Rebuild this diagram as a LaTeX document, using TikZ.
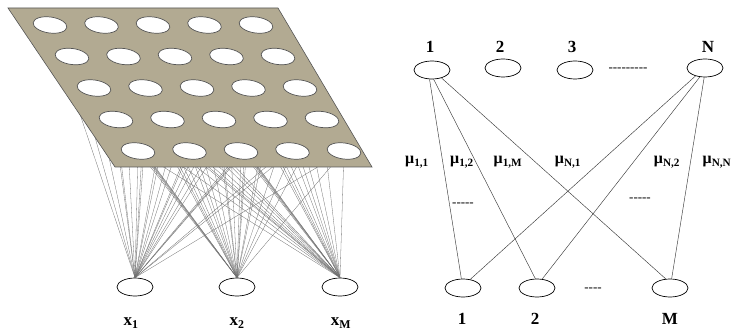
\documentclass[tikz,border=0pt]{standalone}
\usepackage{fontspec}
\setmainfont{Liberation Serif}
\usetikzlibrary{shapes.geometric}
\definecolor{plane}{HTML}{B2AA92}
\definecolor{rim}{HTML}{555555}
\definecolor{wire}{HTML}{3A3A3A}
\definecolor{fine}{HTML}{707070}
\tikzset{
  unit/.style={ellipse, draw=black, fill=white, line width=0.7pt,
    minimum width=36pt, minimum height=18pt, inner sep=0pt},
  cell/.style={ellipse, draw=rim, fill=white, line width=0.7pt,
    minimum width=34pt, minimum height=16pt, inner sep=0pt, rotate=-8},
  link/.style={draw=wire, line width=0.45pt},
  mesh/.style={draw=fine, line width=0.3pt},
  lab/.style={font=\fontsize{17}{17}\selectfont\bfseries, inner sep=0pt},
  wlab/.style={font=\fontsize{16}{16}\selectfont\bfseries, inner sep=0pt},
  gap/.style={font=\fontsize{13}{13}\selectfont, inner sep=0pt}
}
\begin{document}
\begin{tikzpicture}[x=1pt, y=-1pt]
  \useasboundingbox (0,0) rectangle (734,334);

  % input layer
  \node[unit] (x1) at (135,287) {};
  \node[unit] (x2) at (237,287) {};
  \node[unit] (xM) at (340,287) {};
  \node[lab] (lx1) at (131,323) {x\textsubscript{1}};
  \node[lab] (lx2) at (237,323) {x\textsubscript{2}};
  \node[lab] (lxM) at (341,323) {x\textsubscript{M}};

  % map: wires first, plane on top
  \foreach \r in {0,...,4}
    \foreach \c in {0,...,4}
      \coordinate (m\r\c) at ({50+51.5*\c+22*\r},{25+31.5*\r});
  \foreach \r in {0,...,4}
    \foreach \c in {0,...,4}
      \foreach \i in {x1,x2,xM}
        \draw[mesh] (m\r\c) -- (\i.north);
  \filldraw[fill=plane, draw=rim, line width=0.6pt]
    (8,8) -- (278,8) -- (372,167) -- (115,167) -- cycle;
  \foreach \r in {0,...,4}
    \foreach \c in {0,...,4}
      \node[cell] (n\r\c) at (m\r\c) {};

  % output layer
  \node[unit] (t1) at (432,70) {};
  \node[unit] (t2) at (503,68) {};
  \node[unit] (t3) at (575,70) {};
  \node[unit] (tN) at (705,68) {};
  \node[gap] (tdots) at (628,70) {-{}-{}-{}-{}-{}-{}-{}-{}-};
  \node[lab] (lt1) at (430,47) {1};
  \node[lab] (lt2) at (500,47) {2};
  \node[lab] (lt3) at (572,47) {3};
  \node[lab] (ltN) at (708,47) {N};

  % inputs
  \node[unit] (b1) at (463,288) {};
  \node[unit] (b2) at (537,288) {};
  \node[unit] (bM) at (670,288) {};
  \node[gap] (bdots) at (593,290) {-{}-{}-{}-};
  \node[lab] (lb1) at (462,319) {1};
  \node[lab] (lb2) at (535,319) {2};
  \node[lab] (lbM) at (670,319) {M};

  % weights
  \draw[link] (t1.-105) -- (b1.100);
  \draw[link] (t1.-80) -- (b2.100);
  \draw[link] (t1.-40) -- (bM.115);
  \draw[link] (tN.-140) -- (b1.50);
  \draw[link] (tN.-120) -- (b2.60);
  \draw[link] (tN.-95) -- (bM.80);

  \node[wlab] (w11) at (417,162) {μ\textsubscript{1,1}};
  \node[wlab] (w12) at (462,162) {μ\textsubscript{1,2}};
  \node[wlab] (w1M) at (508,162) {μ\textsubscript{1,M}};
  \node[wlab] (wN1) at (568,162) {μ\textsubscript{N,1}};
  \node[wlab] (wN2) at (667,162) {μ\textsubscript{N,2}};
  \node[wlab] (wNN) at (717,162) {μ\textsubscript{N,N}};
  \node[gap] (dl) at (463,205) {-{}-{}-{}-{}-};
  \node[gap] (dr) at (640,200) {-{}-{}-{}-{}-};
\end{tikzpicture}
\end{document}
